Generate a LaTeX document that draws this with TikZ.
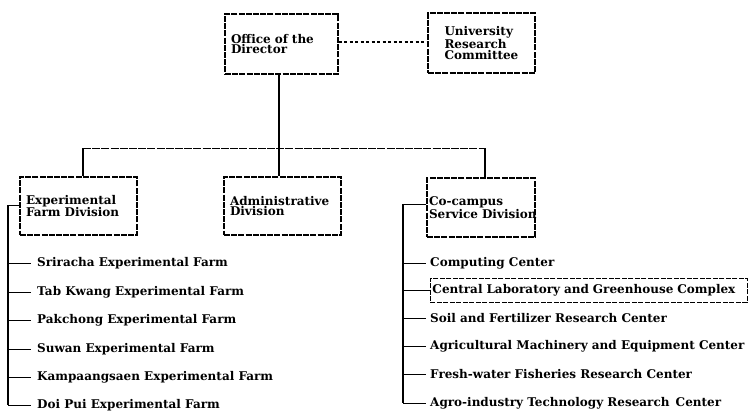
\documentclass[tikz,border=0pt]{standalone}
\usepackage{fontspec}
\setmainfont{DejaVu Serif}
\usetikzlibrary{calc}
\begin{document}
\begin{tikzpicture}[x=1pt,y=-1pt,
  every node/.style={font=\fontsize{12}{10.8}\selectfont\bfseries},
  orgbox/.style={draw=black, line width=1.1pt, dash pattern=on 6pt off 1.2pt, align=left, inner sep=0pt, anchor=center},
  trunkline/.style={line width=1.8pt},
  busline/.style={line width=0.9pt, dash pattern=on 8pt off 1.2pt},
  linkline/.style={line width=1.1pt, dash pattern=on 3pt off 2.5pt},
  tick/.style={line width=1pt},
  item/.style={anchor=west, inner sep=0pt},
  labbox/.style={draw=black, line width=0.9pt, dash pattern=on 5pt off 1.5pt, anchor=west, inner xsep=2pt, minimum width=317pt, minimum height=24pt, align=left, text width=313pt}
]
\useasboundingbox (0,0) rectangle (755,418);

% boxes
\node[orgbox, minimum width=113pt, minimum height=60pt, text width=101pt] (office) at (281.5,44) {Office of the\\Director\\[4pt]};
\node[orgbox, minimum width=107pt, minimum height=60pt, text width=90pt] (urc) at (481.5,43) {\hspace*{8pt}University\\\hspace*{8pt}Research\\\hspace*{8pt}Committee\\[8pt]};
\node[orgbox, minimum width=117pt, minimum height=58pt, text width=105pt] (exp) at (78.5,206) {Experimental\\Farm Division\\[8pt]};
\node[orgbox, minimum width=117pt, minimum height=58pt, text width=105pt] (adm) at (282.5,206) {Administrative\\Division\\[4pt]};
\node[orgbox, minimum width=108pt, minimum height=59pt, text width=104pt] (cos) at (481,207.5) {Co-campus\\\mbox{Service Division}\\[4pt]};

% director to committee
\draw[linkline] (office.east |- 0,42) -- (urc.west |- 0,42);

% trunk and bus
\coordinate (trunk) at (279,148);
\coordinate (busL) at (83,148);
\coordinate (busR) at (485,148);
\draw[trunkline] (office.south -| trunk) -- (adm.north -| trunk);
\draw[busline] (busL) -- (busR);
\draw[trunkline] (busL) -- (busL |- exp.north);
\draw[trunkline] (busR) -- (busR |- cos.north);

% left list
\node[item] (f1) at (37,263) {Sriracha Experimental Farm};
\node[item] (f2) at (37,292) {Tab Kwang Experimental Farm};
\node[item] (f3) at (37,320) {Pakchong Experimental Farm};
\node[item] (f4) at (37,349) {Suwan Experimental Farm};
\node[item] (f5) at (37,377) {Kampaangsaen Experimental Farm};
\node[item] (f6) at (37,405) {Doi Pui Experimental Farm};
\coordinate (lbr) at (8,205);
\draw[tick] (exp.west |- lbr) -- (lbr);
\draw[trunkline] (lbr) -- (lbr |- f6.west);
\foreach \f in {f1,f2,f3,f4,f5,f6}
  \draw[tick] (lbr |- \f.west) -- ([xshift=-6pt]\f.west);

% right list
\node[item] (c1) at (430,263) {Computing Center};
\node[labbox] (c2) at (430,290) {Central Laboratory and Greenhouse Complex};
\node[item] (c3) at (430,318) {Soil and Fertilizer Research Center};
\node[item] (c4) at (430,346) {Agricultural Machinery and Equipment Center};
\node[item] (c5) at (430,374) {Fresh-water Fisheries Research Center};
\node[item] (c6) at (430,403) {Agro-industry Technology Research\, Center};
\coordinate (rbr) at (403,204);
\draw[tick] (cos.west |- rbr) -- (rbr);
\draw[trunkline] (rbr) -- (rbr |- c6.west);
\foreach \c in {c1,c3,c4,c5,c6}
  \draw[tick] (rbr |- \c.west) -- ([xshift=-4pt]\c.west);
\draw[tick] (rbr |- c2.west) -- (c2.west);
\end{tikzpicture}
\end{document}
